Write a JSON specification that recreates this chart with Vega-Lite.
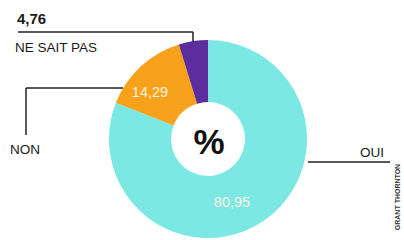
{
  "$schema": "https://vega.github.io/schema/vega-lite/v6.json",
  "width": 392,
  "height": 202,
  "autosize": {"type": "none"},
  "padding": {"left": 12, "top": 38, "right": 0, "bottom": 0},
  "background": "white",
  "config": {"view": {"stroke": null}, "font": "Liberation Sans"},
  "resolve": {"scale": {"theta": "independent"}},
  "layer": [
    {
      "data": {"values": [
        {"reponse": "OUI", "pct": 80.95, "ordre": 1},
        {"reponse": "NON", "pct": 14.29, "ordre": 2},
        {"reponse": "NE SAIT PAS", "pct": 4.76, "ordre": 3}
      ]},
      "mark": {"type": "arc", "outerRadius": 99, "innerRadius": 37},
      "encoding": {
        "theta": {"field": "pct", "type": "quantitative", "stack": true},
        "order": {"field": "ordre", "type": "quantitative"},
        "color": {"field": "reponse", "type": "nominal", "legend": null,
          "scale": {"domain": ["OUI", "NON", "NE SAIT PAS"], "range": ["#7be8e3", "#f8a21c", "#5b2d9d"]}}
      }
    },
    {
      "data": {"values": [
        {"x": 18, "y": 32, "x2": 193, "y2": 32},
        {"x": 193, "y": 32, "x2": 193, "y2": 42},
        {"x": 26, "y": 88, "x2": 123, "y2": 88},
        {"x": 26, "y": 88, "x2": 26, "y2": 135},
        {"x": 308, "y": 162, "x2": 390, "y2": 162}
      ]},
      "mark": {"type": "rule", "color": "#222222", "strokeWidth": 1.5},
      "encoding": {
        "x": {"field": "x", "type": "quantitative", "scale": {"domain": [12, 404], "nice": false, "zero": false}, "axis": null},
        "y": {"field": "y", "type": "quantitative", "scale": {"domain": [240, 38], "nice": false, "zero": false}, "axis": null},
        "x2": {"field": "x2"},
        "y2": {"field": "y2"}
      }
    },
    {
      "data": {"values": [
        {"x": 17, "y": 24, "t": "4,76"}
      ]},
      "mark": {"type": "text", "align": "left", "baseline": "alphabetic", "fontSize": 15, "fontWeight": "bold", "color": "#1a1a1a"},
      "encoding": {
        "x": {"field": "x", "type": "quantitative"},
        "y": {"field": "y", "type": "quantitative"},
        "text": {"field": "t"}
      }
    },
    {
      "data": {"values": [
        {"x": 15, "y": 52, "t": "NE SAIT PAS"},
        {"x": 10, "y": 154, "t": "NON"},
        {"x": 360, "y": 157, "t": "OUI"}
      ]},
      "mark": {"type": "text", "align": "left", "baseline": "alphabetic", "fontSize": 13.5, "color": "#1a1a1a"},
      "encoding": {
        "x": {"field": "x", "type": "quantitative"},
        "y": {"field": "y", "type": "quantitative"},
        "text": {"field": "t"}
      }
    },
    {
      "data": {"values": [
        {"x": 150, "y": 97, "t": "14,29"},
        {"x": 232, "y": 207, "t": "80,95"}
      ]},
      "mark": {"type": "text", "align": "center", "baseline": "alphabetic", "fontSize": 14.5, "color": "#fdf3e0"},
      "encoding": {
        "x": {"field": "x", "type": "quantitative"},
        "y": {"field": "y", "type": "quantitative"},
        "text": {"field": "t"}
      }
    },
    {
      "data": {"values": [
        {"x": 209, "y": 154, "t": "%"}
      ]},
      "mark": {"type": "text", "align": "center", "baseline": "alphabetic", "fontSize": 35, "fontWeight": "bold", "color": "#111111"},
      "encoding": {
        "x": {"field": "x", "type": "quantitative"},
        "y": {"field": "y", "type": "quantitative"},
        "text": {"field": "t"}
      }
    },
    {
      "data": {"values": [
        {"x": 398, "y": 197, "t": "GRANT THORNTON"}
      ]},
      "mark": {"type": "text", "align": "center", "baseline": "middle", "angle": 270, "fontSize": 7, "fontWeight": "bold", "color": "#333333"},
      "encoding": {
        "x": {"field": "x", "type": "quantitative"},
        "y": {"field": "y", "type": "quantitative"},
        "text": {"field": "t"}
      }
    }
  ]
}
